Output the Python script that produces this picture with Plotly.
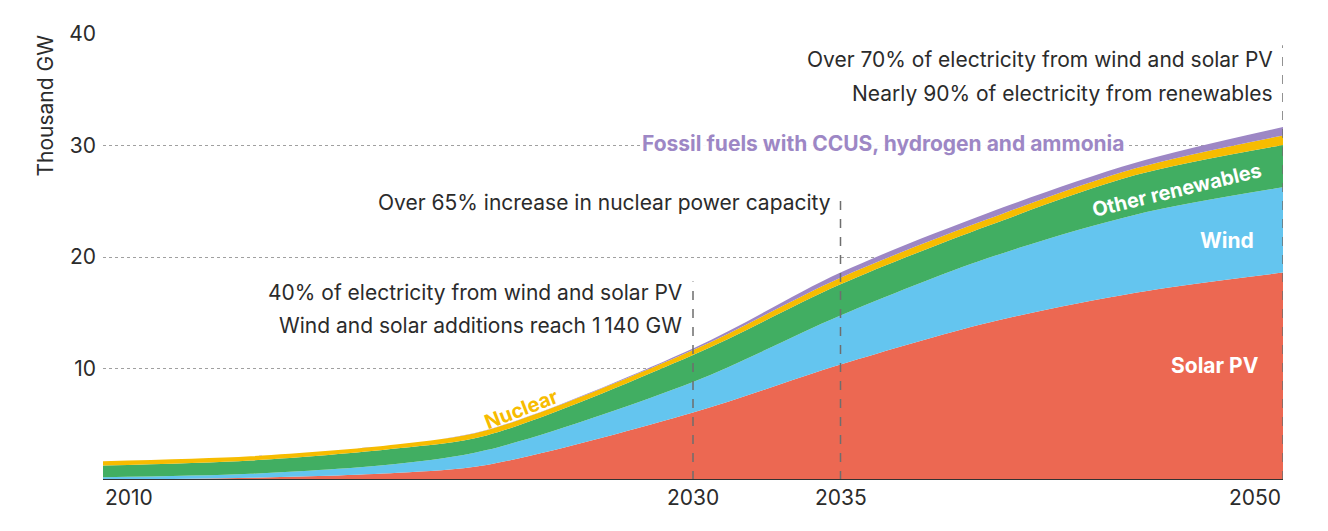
import plotly.graph_objects as go

years = [2010, 2015, 2020, 2023, 2030, 2035, 2040, 2045, 2050]
solar_pv = [0.04, 0.2, 0.65, 1.35, 6.05, 10.35, 14.1, 16.8, 18.6]
wind = [0.2, 0.35, 0.8, 1.33, 2.75, 4.4, 5.8, 7.0, 7.65]
other_renewables = [1.05, 1.2, 1.4, 1.32, 2.4, 2.8, 2.9, 3.55, 3.8]
nuclear = [0.4, 0.38, 0.35, 0.46, 0.45, 0.6, 0.6, 0.6, 0.85]
fossil_ccus = [0.0, 0.0, 0.0, 0.02, 0.15, 0.45, 0.55, 0.5, 0.75]

series_names = ["Solar PV", "Wind", "Other renewables", "Nuclear",
                "Fossil fuels with CCUS, hydrogen and ammonia"]
series_values = [solar_pv, wind, other_renewables, nuclear, fossil_ccus]
series_colors = ["#EC6852", "#64C5EF", "#41AE62", "#F7BC00", "#9D87C5"]

y_ticks = [10, 20, 30, 40]
x_tick_labels = ["2010", "2030", "2035", "2050"]
marker_years = [2030, 2035, 2050]
marker_tops = [17.8, 25.6, 39.0]

FONT = "Inter"
TXT = "#2b2b2b"
FS = 21

fig = go.Figure()
for name, vals, col in zip(series_names, series_values, series_colors):
    fig.add_trace(go.Scatter(
        x=years, y=vals, name=name, stackgroup="one", mode="lines",
        line=dict(width=0, shape="spline", smoothing=0.9, color=col),
        fillcolor=col, hoverinfo="skip", showlegend=False,
    ))

shapes = []
for yr, top in zip(marker_years, marker_tops):
    shapes.append(dict(type="line", xref="x", yref="y", x0=yr, x1=yr, y0=0, y1=top,
                       line=dict(color="#6e6e6e", width=1.5, dash="dash"), layer="above"))
shapes.append(dict(type="line", xref="x", yref="y", x0=2010, x1=2050, y0=0, y1=0,
                   line=dict(color="#333333", width=2), layer="above"))

ann = []
anchors = ["left", "center", "center", "right"]
for lab, anc in zip(x_tick_labels, anchors):
    ann.append(dict(x=int(lab), y=0, xref="x", yref="y", text=lab, showarrow=False,
                    xanchor=anc, yanchor="top", yshift=-3,
                    font=dict(family=FONT, size=FS, color=TXT)))
ann.append(dict(x=-0.049, y=0.84, xref="paper", yref="paper", text="Thousand GW",
                textangle=-90, showarrow=False, xanchor="center", yanchor="middle",
                font=dict(family=FONT, size=FS, color=TXT)))

def note(x, y, text):
    ann.append(dict(x=x, y=y, xref="x", yref="y", text=text, showarrow=False,
                    xanchor="right", yanchor="middle", bgcolor="white",
                    font=dict(family=FONT, size=FS, color=TXT)))

note(2029.7, 16.85, "40% of electricity from wind and solar PV")
note(2029.7, 13.9, "Wind and solar additions reach 1\u202f140 GW")
note(2034.75, 24.85, "Over 65% increase in nuclear power capacity")
note(2049.73, 37.75, "Over 70% of electricity from wind and solar PV")
note(2049.73, 34.7, "Nearly 90% of electricity from renewables")

ann.append(dict(x=2036.47, y=30.2, xref="x", yref="y",
                text="<b>Fossil fuels with CCUS, hydrogen and ammonia</b>",
                showarrow=False, xanchor="center", yanchor="middle",
                bgcolor="rgba(255,255,255,0.92)",
                font=dict(family=FONT, size=FS, color="#9D87C5")))
ann.append(dict(x=2024.2, y=6.35, xref="x", yref="y", text="<b>Nuclear</b>",
                showarrow=False, textangle=-21,
                font=dict(family=FONT, size=FS - 1, color="#F7BC00")))
ann.append(dict(x=2046.4, y=26.05, xref="x", yref="y", text="<b>Other renewables</b>",
                showarrow=False, textangle=-13.5,
                font=dict(family=FONT, size=FS - 1, color="white")))
ann.append(dict(x=2048.1, y=21.5, xref="x", yref="y", text="<b>Wind</b>",
                showarrow=False, font=dict(family=FONT, size=FS, color="white")))
ann.append(dict(x=2047.7, y=10.3, xref="x", yref="y", text="<b>Solar PV</b>",
                showarrow=False, font=dict(family=FONT, size=FS, color="white")))

fig.update_layout(
    width=1312, height=515, autosize=False,
    margin=dict(l=95, r=37, t=26, b=43),
    paper_bgcolor="white", plot_bgcolor="white",
    shapes=shapes, annotations=ann,
    xaxis=dict(range=[2010, 2050], showgrid=False, showticklabels=False,
               zeroline=False, showline=False, ticks=""),
    yaxis=dict(range=[0, 40], tickvals=y_ticks, ticktext=[str(v) for v in y_ticks],
               showgrid=True, gridcolor="#a0a0a0", gridwidth=1, griddash="dot",
               zeroline=False, showline=False, ticks="", ticklabelstandoff=6,
               tickfont=dict(family=FONT, size=FS, color=TXT)),
)

fig.write_html("out.html")
